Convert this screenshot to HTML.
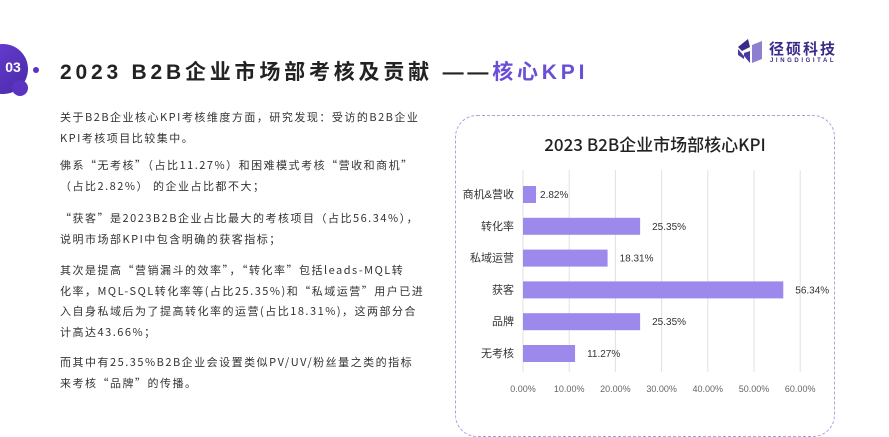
<!DOCTYPE html>
<html><head><meta charset="utf-8"><style>
body{margin:0;width:889px;height:400px;overflow:hidden;background:#fff;font-family:"Liberation Sans","Noto Sans CJK SC",sans-serif;position:relative}
.abs{position:absolute}
.para{position:absolute;left:60px;font-family:"Noto Sans CJK SC",sans-serif;font-size:11px;letter-spacing:1.5px;color:#333;line-height:20.5px;white-space:nowrap}
</style></head><body>
<div class="abs" style="left:-22px;top:44px;width:50px;height:50px;border-radius:50%;background:linear-gradient(135deg,#6a3fd6,#4a2aa8)"></div>
<div class="abs" style="left:0;top:59px;width:26px;color:#fff;font-size:14px;font-weight:bold;text-align:center">03</div>
<div class="abs" style="left:12px;top:80px;width:16px;height:16px;border-radius:50%;background:#5a34c0"></div>
<div class="abs" style="left:33px;top:67px;width:6px;height:6px;border-radius:50%;background:#5a34c0"></div>
<div class="abs" style="left:60px;top:56px;font-size:21px;font-weight:bold;letter-spacing:3.8px;color:#222;white-space:nowrap">2023 B2B企业市场部考核及贡献 ——<span style="color:#6a4fd6">核心KPI</span></div>

<svg class="abs" style="left:736px;top:37px" width="28" height="28" viewBox="0 0 28 28"><polygon points="2,10 12,2 14,10 6,14" fill="#3b2a8a"/><polygon points="2,12 14,26 14,14 8,16 8,22 2,18" fill="#4b3aa0"/><polygon points="16,8 26,4 26,22 16,26" fill="#8e7fd0"/></svg>
<div class="abs" style="left:769px;top:38px;font-size:15px;font-weight:bold;color:#3a2c8a;letter-spacing:2px">径硕科技</div>
<div class="abs" style="left:770px;top:58px;font-size:6px;color:#3a2c8a;letter-spacing:2.6px;font-weight:bold">JINGDIGITAL</div>

<div class="para" style="top:107px">关于B2B企业核心KPI考核维度方面，研究发现：受访的B2B企业<br>KPI考核项目比较集中。</div>
<div class="para" style="top:155px">佛系“无考核”（占比11.27%）和困难模式考核“营收和商机”<br>（占比2.82%） 的企业占比都不大；</div>
<div class="para" style="top:208px">“获客”是2023B2B企业占比最大的考核项目（占比56.34%），<br>说明市场部KPI中包含明确的获客指标；</div>
<div class="para" style="top:260px">其次是提高“营销漏斗的效率”，“转化率”包括leads-MQL转<br>化率，MQL-SQL转化率等(占比25.35%)和“私域运营”用户已进<br>入自身私域后为了提高转化率的运营(占比18.31%)，这两部分合<br>计高达43.66%；</div>
<div class="para" style="top:352px">而其中有25.35%B2B企业会设置类似PV/UV/粉丝量之类的指标<br>来考核“品牌”的传播。</div>

<div class="abs" style="left:455px;top:115px;width:378px;height:320px;border:1px dashed #a9a0e0;border-radius:22px"></div>
<svg class="abs" id="chart" style="left:0;top:0" width="889" height="400"></svg>
<script>
const categories=["商机&营收","转化率","私域运营","获客","品牌","无考核"];
const values=[2.82,25.35,18.31,56.34,25.35,11.27];
const ticks=[0,10,20,30,40,50,60];
const tickLabels=["0.00%","10.00%","20.00%","30.00%","40.00%","50.00%","60.00%"];
const svg=document.getElementById('chart');
const NS="http://www.w3.org/2000/svg";
const x=v=>523+v*4.62;
const y=i=>194+i*31.8;
function mk(t,a,txt){const e=document.createElementNS(NS,t);for(const k in a)e.setAttribute(k,a[k]);if(txt!=null)e.textContent=txt;svg.appendChild(e);return e;}
let t=mk('text',{x:655,y:151,'text-anchor':'middle','font-size':17,'font-weight':'500',fill:'#222','font-family':'"Noto Sans CJK SC",sans-serif'},'2023 B2B企业市场部核心KPI');


ticks.forEach((v,i)=>{
 const g=mk('line',{x1:x(v),x2:x(v),y1:170,y2:372,stroke:'#e0e0e0','stroke-width':1});
 
 
 const l=mk('text',{x:x(v),y:392,'text-anchor':'middle','font-size':9,fill:'#666'},tickLabels[i]);
 
 
});
categories.forEach((c,i)=>{
 const b=mk('rect',{x:x(0),y:y(i)-8,width:x(values[i])-x(0),height:17,fill:'#9d89ec'});
 
 
 const l=mk('text',{x:514,y:y(i)+4,'text-anchor':'end','font-size':11,fill:'#333'},c);
 
 
 const v=mk('text',{x:x(values[i])+(values[i]<5?4:12),y:y(i)+4,'font-size':10,fill:'#333'},values[i].toFixed(2)+'%');
 
 
});
</script>
</body></html>
